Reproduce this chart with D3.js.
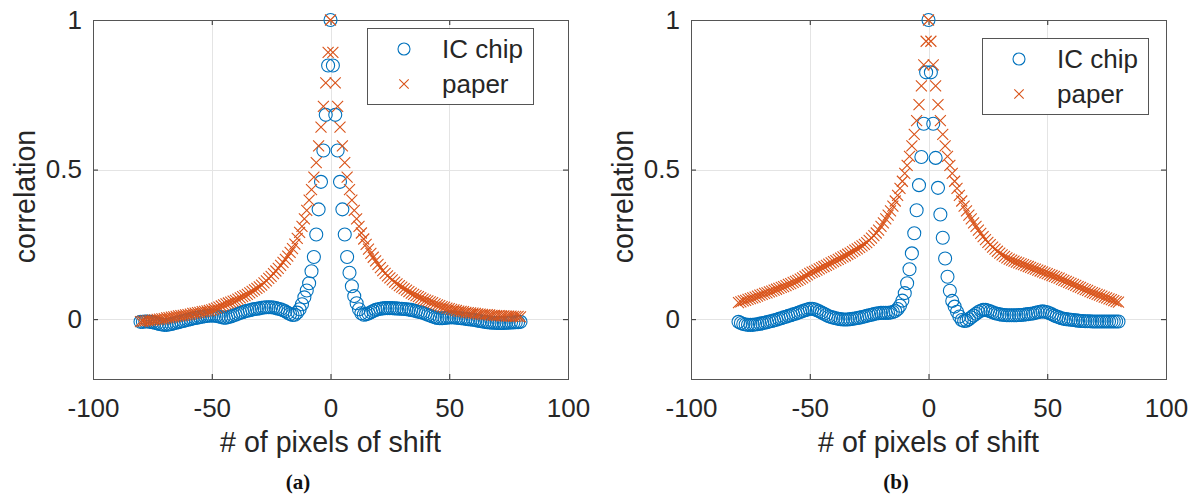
<!DOCTYPE html>
<html>
<head>
<meta charset="utf-8">
<script src="https://cdn.jsdelivr.net/npm/d3@7"></script>
<style>
  body { margin: 0; background: #fff; }
</style>
</head>
<body>
<div id="chart"></div>
<script>
// shift grid, -80 .. 80 pixels
const shift = d3.range(-80, 81);

// (a) correlation values, left to right
const chipA = [
  -0.009, -0.009, -0.008, -0.008, -0.009, -0.010, -0.012, -0.014, -0.016, -0.018,
  -0.019, -0.019, -0.018, -0.016, -0.014, -0.012, -0.010, -0.008, -0.006, -0.004,
  -0.002, 0.000, 0.002, 0.004, 0.005, 0.007, 0.008, 0.010, 0.011, 0.012,
  0.012, 0.012, 0.011, 0.009, 0.007, 0.005, 0.005, 0.007, 0.009, 0.012,
  0.015, 0.018, 0.021, 0.023, 0.026, 0.028, 0.030, 0.032, 0.034, 0.035,
  0.036, 0.038, 0.039, 0.040, 0.040, 0.040, 0.039, 0.037, 0.035, 0.033,
  0.030, 0.026, 0.021, 0.017, 0.014, 0.015, 0.022, 0.033, 0.050, 0.073,
  0.096, 0.120, 0.160, 0.208, 0.283, 0.367, 0.459, 0.564, 0.683, 0.848,
  1,
  0.848, 0.683, 0.564, 0.459, 0.367, 0.283, 0.208, 0.155, 0.110, 0.077,
  0.053, 0.033, 0.020, 0.015, 0.016, 0.019, 0.023, 0.027, 0.031, 0.033,
  0.035, 0.036, 0.037, 0.037, 0.037, 0.037, 0.036, 0.036, 0.035, 0.035,
  0.034, 0.033, 0.032, 0.031, 0.029, 0.027, 0.025, 0.023, 0.021, 0.018,
  0.015, 0.012, 0.009, 0.006, 0.004, 0.003, 0.003, 0.004, 0.005, 0.006,
  0.006, 0.006, 0.005, 0.004, 0.003, 0.002, 0.001, 0.000, -0.001, -0.002,
  -0.003, -0.005, -0.006, -0.008, -0.009, -0.010, -0.011, -0.012, -0.012, -0.013,
  -0.013, -0.013, -0.013, -0.012, -0.012, -0.011, -0.011, -0.010, -0.010, -0.009
];
const paperA = [
  -0.008, -0.007, -0.006, -0.005, -0.004, -0.003, -0.002, -0.001, 0.000, 0.001,
  0.002, 0.004, 0.005, 0.007, 0.008, 0.009, 0.011, 0.012, 0.013, 0.014,
  0.015, 0.017, 0.019, 0.020, 0.022, 0.023, 0.025, 0.026, 0.028, 0.029,
  0.031, 0.034, 0.037, 0.040, 0.044, 0.048, 0.051, 0.054, 0.057, 0.060,
  0.063, 0.067, 0.071, 0.075, 0.079, 0.083, 0.088, 0.093, 0.098, 0.103,
  0.108, 0.114, 0.121, 0.128, 0.136, 0.143, 0.152, 0.161, 0.170, 0.180,
  0.190, 0.200, 0.211, 0.223, 0.236, 0.251, 0.270, 0.290, 0.310, 0.335,
  0.364, 0.398, 0.433, 0.475, 0.523, 0.579, 0.642, 0.711, 0.790, 0.892,
  1,
  0.892, 0.790, 0.711, 0.642, 0.579, 0.523, 0.475, 0.433, 0.398, 0.364,
  0.335, 0.310, 0.288, 0.268, 0.250, 0.234, 0.220, 0.207, 0.195, 0.183,
  0.172, 0.162, 0.153, 0.145, 0.138, 0.131, 0.124, 0.118, 0.112, 0.107,
  0.102, 0.097, 0.092, 0.087, 0.083, 0.079, 0.075, 0.071, 0.067, 0.064,
  0.061, 0.058, 0.055, 0.051, 0.048, 0.045, 0.042, 0.040, 0.037, 0.035,
  0.033, 0.031, 0.029, 0.027, 0.026, 0.025, 0.023, 0.022, 0.021, 0.020,
  0.019, 0.018, 0.017, 0.016, 0.015, 0.015, 0.014, 0.013, 0.013, 0.012,
  0.012, 0.011, 0.011, 0.010, 0.010, 0.010, 0.009, 0.009, 0.009, 0.008
];

// (b) correlation values, left to right
const chipB = [
  -0.009, -0.013, -0.016, -0.018, -0.019, -0.019, -0.019, -0.018, -0.017, -0.015,
  -0.014, -0.012, -0.010, -0.008, -0.006, -0.004, -0.002, 0.001, 0.003, 0.006,
  0.008, 0.011, 0.013, 0.016, 0.018, 0.021, 0.024, 0.027, 0.030, 0.032,
  0.035, 0.035, 0.033, 0.030, 0.026, 0.022, 0.018, 0.014, 0.010, 0.007,
  0.005, 0.003, 0.001, 0.000, -0.001, -0.001, -0.001, 0.000, 0.001, 0.002,
  0.004, 0.005, 0.007, 0.009, 0.011, 0.013, 0.015, 0.017, 0.019, 0.020,
  0.021, 0.021, 0.021, 0.021, 0.022, 0.024, 0.027, 0.034, 0.045, 0.062,
  0.087, 0.120, 0.167, 0.220, 0.287, 0.364, 0.448, 0.542, 0.653, 0.825,
  1,
  0.825, 0.653, 0.539, 0.439, 0.350, 0.272, 0.203, 0.142, 0.095, 0.061,
  0.042, 0.025, 0.009, -0.003, -0.006, -0.005, 0.000, 0.006, 0.012, 0.018,
  0.024, 0.028, 0.031, 0.031, 0.029, 0.026, 0.023, 0.020, 0.018, 0.016,
  0.015, 0.014, 0.013, 0.013, 0.013, 0.013, 0.013, 0.014, 0.014, 0.015,
  0.016, 0.017, 0.018, 0.019, 0.021, 0.023, 0.025, 0.026, 0.025, 0.023,
  0.020, 0.016, 0.012, 0.009, 0.006, 0.003, 0.001, 0.000, -0.001, -0.002,
  -0.003, -0.004, -0.005, -0.006, -0.006, -0.007, -0.007, -0.007, -0.008, -0.008,
  -0.008, -0.008, -0.008, -0.008, -0.008, -0.008, -0.008, -0.008, -0.008, -0.008
];
const paperB = [
  0.055, 0.058, 0.061, 0.063, 0.066, 0.069, 0.071, 0.074, 0.077, 0.080,
  0.083, 0.086, 0.088, 0.091, 0.094, 0.097, 0.100, 0.103, 0.106, 0.109,
  0.112, 0.116, 0.119, 0.123, 0.126, 0.130, 0.134, 0.138, 0.143, 0.148,
  0.153, 0.157, 0.160, 0.164, 0.168, 0.172, 0.176, 0.180, 0.184, 0.188,
  0.192, 0.196, 0.200, 0.204, 0.208, 0.212, 0.217, 0.221, 0.226, 0.231,
  0.235, 0.240, 0.245, 0.250, 0.256, 0.263, 0.271, 0.279, 0.288, 0.298,
  0.310, 0.322, 0.335, 0.348, 0.362, 0.378, 0.395, 0.414, 0.437, 0.461,
  0.487, 0.514, 0.544, 0.579, 0.618, 0.664, 0.717, 0.780, 0.850, 0.929,
  1,
  0.929, 0.850, 0.780, 0.717, 0.664, 0.618, 0.579, 0.544, 0.514, 0.487,
  0.461, 0.437, 0.414, 0.395, 0.378, 0.362, 0.348, 0.335, 0.322, 0.310,
  0.298, 0.287, 0.276, 0.266, 0.257, 0.249, 0.241, 0.234, 0.227, 0.221,
  0.215, 0.210, 0.205, 0.201, 0.197, 0.194, 0.191, 0.188, 0.185, 0.182,
  0.179, 0.176, 0.173, 0.170, 0.167, 0.164, 0.161, 0.158, 0.155, 0.152,
  0.149, 0.146, 0.143, 0.140, 0.137, 0.133, 0.130, 0.126, 0.123, 0.120,
  0.116, 0.113, 0.109, 0.106, 0.102, 0.099, 0.096, 0.092, 0.089, 0.086,
  0.083, 0.080, 0.077, 0.074, 0.071, 0.068, 0.065, 0.062, 0.059, 0.057
];

const xTicks = [-100, -50, 0, 50, 100];
const yTicks = [0, 0.5, 1];
const seriesNames = ["IC chip", "paper"];
const panelNames = ["(a)", "(b)"];

const W = 1191, H = 497;
const plotTop = 20, plotBottom = 379;
const blue = "#0072BD", orange = "#D95319", ink = "#262626";
const font = "'Liberation Sans', Arial, sans-serif";

const svg = d3.select("#chart")
  .append("svg")
    .attr("width", W)
    .attr("height", H)
    .style("display", "block");

const panels = [
  {left: 93, right: 568, chip: chipA, paper: paperA, name: panelNames[0], legX: 367, legY: 28, yLabX: 25, nameX: 298},
  {left: 691, right: 1166, chip: chipB, paper: paperB, name: panelNames[1], legX: 982, legY: 38, yLabX: 623, nameX: 896}
];

// little "x" marker
function cross(cx, cy, h) {
  return `M${cx - h},${cy - h}L${cx + h},${cy + h}M${cx - h},${cy + h}L${cx + h},${cy - h}`;
}

panels.forEach(function(p) {
  const g = svg.append("g");

  const x = d3.scaleLinear().domain([-100, 100]).range([p.left, p.right]);
  const y = d3.scaleLinear().domain([-0.2, 1]).range([plotBottom, plotTop]);

  // grid
  g.append("g").selectAll("line")
    .data(xTicks.slice(1, -1))
    .join("line")
      .attr("x1", d => Math.round(x(d)) + 0.5).attr("x2", d => Math.round(x(d)) + 0.5)
      .attr("y1", plotTop).attr("y2", plotBottom)
      .attr("stroke", "#e4e4e4");
  g.append("g").selectAll("line")
    .data(yTicks.slice(0, -1))
    .join("line")
      .attr("y1", d => Math.round(y(d)) + 0.5).attr("y2", d => Math.round(y(d)) + 0.5)
      .attr("x1", p.left).attr("x2", p.right)
      .attr("stroke", "#e4e4e4");

  // axes with inward ticks, box on
  const fmt = d => String(d);
  const xAxis = g.append("g")
    .attr("transform", `translate(0, ${plotBottom})`)
    .call(d3.axisBottom(x).tickValues(xTicks).tickFormat(fmt).tickSize(-5).tickPadding(20));
  const xTop = g.append("g")
    .attr("transform", `translate(0, ${plotTop})`)
    .call(d3.axisTop(x).tickValues(xTicks).tickFormat("").tickSize(-5));
  const yAxis = g.append("g")
    .attr("transform", `translate(${p.left}, 0)`)
    .call(d3.axisLeft(y).tickValues(yTicks).tickFormat(fmt).tickSize(-5).tickPadding(11));
  const yRight = g.append("g")
    .attr("transform", `translate(${p.right}, 0)`)
    .call(d3.axisRight(y).tickValues(yTicks).tickFormat("").tickSize(-5));

  [xAxis, xTop, yAxis, yRight].forEach(function(a) {
    a.select(".domain").remove();
    a.selectAll(".tick line").attr("stroke", ink);
    a.selectAll("text")
      .attr("fill", ink)
      .attr("font-family", font)
      .attr("font-size", 26);
  });

  // box
  g.append("rect")
    .attr("x", p.left + 0.5).attr("y", plotTop + 0.5)
    .attr("width", p.right - p.left).attr("height", plotBottom - plotTop)
    .attr("fill", "none")
    .attr("stroke", "#555")
    .attr("stroke-width", 1);

  // IC chip circles
  g.append("g").selectAll("circle")
    .data(shift.map((s, i) => ({s: s, v: p.chip[i]})))
    .join("circle")
      .attr("cx", d => x(d.s))
      .attr("cy", d => y(d.v))
      .attr("r", 6.5)
      .attr("fill", "none")
      .attr("stroke", blue)
      .attr("stroke-width", 1.1);

  // paper crosses
  g.append("g").selectAll("path")
    .data(shift.map((s, i) => ({s: s, v: p.paper[i]})))
    .join("path")
      .attr("d", d => cross(x(d.s), y(d.v), 5.5))
      .attr("fill", "none")
      .attr("stroke", orange)
      .attr("stroke-width", 1.1);

  // axis labels
  g.append("text")
    .attr("x", (p.left + p.right) / 2)
    .attr("y", 442)
    .attr("text-anchor", "middle")
    .attr("dominant-baseline", "central")
    .attr("font-family", font)
    .attr("font-size", 28.6)
    .attr("fill", ink)
    .text("# of pixels of shift");

  g.append("text")
    .attr("transform", `translate(${p.yLabX}, ${(plotTop + plotBottom) / 2 - 3}) rotate(-90)`)
    .attr("text-anchor", "middle")
    .attr("dominant-baseline", "central")
    .attr("font-family", font)
    .attr("font-size", 28.6)
    .attr("fill", ink)
    .text("correlation");

  // panel caption
  g.append("text")
    .attr("x", p.nameX)
    .attr("y", 489)
    .attr("text-anchor", "middle")
    .attr("font-family", "'Liberation Serif', 'DejaVu Serif', serif")
    .attr("font-weight", "bold")
    .attr("font-size", 21)
    .attr("fill", "#111")
    .text(p.name);

  // legend
  const leg = g.append("g").attr("transform", `translate(${p.legX}, ${p.legY})`);
  leg.append("rect")
    .attr("x", 0.5).attr("y", 0.5)
    .attr("width", 166).attr("height", 76)
    .attr("fill", "#fff")
    .attr("stroke", "#555");
  leg.append("circle")
    .attr("cx", 37).attr("cy", 21).attr("r", 6)
    .attr("fill", "none").attr("stroke", blue).attr("stroke-width", 1.1);
  leg.append("path")
    .attr("d", cross(37, 56, 4.7))
    .attr("fill", "none").attr("stroke", orange).attr("stroke-width", 1.1);
  leg.selectAll("text")
    .data(seriesNames)
    .join("text")
      .attr("x", 75)
      .attr("y", (d, i) => 21 + i * 35)
      .attr("dominant-baseline", "central")
      .attr("font-family", font)
      .attr("font-size", 26)
      .attr("fill", ink)
      .text(d => d);
});
</script>
</body>
</html>
